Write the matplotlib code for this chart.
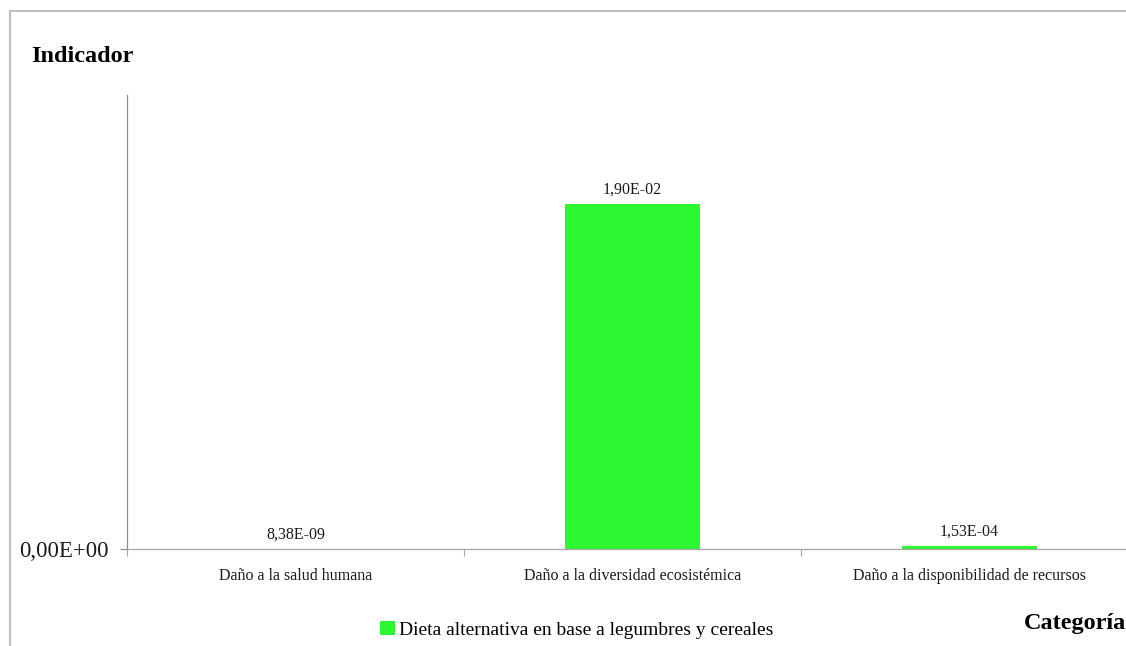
import matplotlib
matplotlib.use("Agg")
import matplotlib.pyplot as plt
from matplotlib.lines import Line2D

# datos del indicador por categoria de daño
categorias = ["Daño a la salud humana", "Daño a la diversidad ecosistémica",
              "Daño a la disponibilidad de recursos"]
valores = [8.38e-09, 1.90e-02, 1.53e-04]
serie = "Dieta alternativa en base a legumbres y cereales"
y_max = 0.025

fuente = ["Liberation Serif", "DejaVu Serif"]
plt.rcParams["font.family"] = fuente

W, H = 1126, 646
fig = plt.figure(figsize=(W / 100, H / 100), dpi=100)
ax = fig.add_axes([127 / W, 1 - 549 / H, (1138 - 127) / W, (549 - 95) / H])

x = list(range(len(categorias)))
barras = ax.bar(x, valores, width=0.4, color="#2cf832", label=serie)

# etiquetas de valor en formato cientifico con coma decimal
for xi, v in zip(x, valores):
    txt = f"{v:.2E}".replace(".", ",")
    ax.annotate(txt, (xi, v), xytext=(0, 4.5), textcoords="offset points",
                ha="center", va="bottom", fontsize=11.5, color="#1a1a1a")

ax.set_xlim(-0.5, len(categorias) - 0.5)
ax.set_ylim(0, y_max)

# ticks mayores en los limites de categoria, etiquetas en los centros
ax.set_xticks([i - 0.5 for i in range(len(categorias) + 1)])
ax.set_xticklabels([])
ax.set_xticks(x, minor=True)
ax.set_xticklabels(categorias, minor=True, fontsize=11.5, color="#1a1a1a")
ax.tick_params(axis="x", which="major", length=5, color="#a6a6a6", direction="out")
ax.tick_params(axis="x", which="minor", length=0, pad=14)

ax.set_yticks([0])
ax.set_yticklabels(["0,00E+00"], fontsize=16.5, color="#1a1a1a")
ax.tick_params(axis="y", length=5, color="#8c8c8c", pad=8)

for s in ["top", "right"]:
    ax.spines[s].set_visible(False)
ax.spines["left"].set_color("#8c8c8c")
ax.spines["bottom"].set_color("#a6a6a6")
ax.spines["left"].set_linewidth(0.9)
ax.spines["bottom"].set_linewidth(0.9)

fig.text(31 / W, 1 - 56 / H, "Indicador", fontsize=17.5, fontweight="bold",
         ha="left", va="center")
fig.text(1126 / W, 1 - 623 / H, "Categoría", fontsize=17.5, fontweight="bold",
         ha="right", va="center")

fig.legend(handles=[barras], labels=[serie], loc="center",
           bbox_to_anchor=(576.5 / W, 1 - 630 / H), frameon=False,
           prop={"family": fuente, "size": 14}, handlelength=0.75,
           handleheight=0.75, handletextpad=0.2, borderpad=0)

# marco gris del area del grafico
borde = "#bfbfbf"
fig.add_artist(Line2D([10 / W, 1], [1 - 11 / H, 1 - 11 / H], color=borde, lw=1.5,
                      transform=fig.transFigure))
fig.add_artist(Line2D([10 / W, 10 / W], [0, 1 - 11 / H], color=borde, lw=1.5,
                      transform=fig.transFigure))

fig.savefig("out.png", dpi=100)
